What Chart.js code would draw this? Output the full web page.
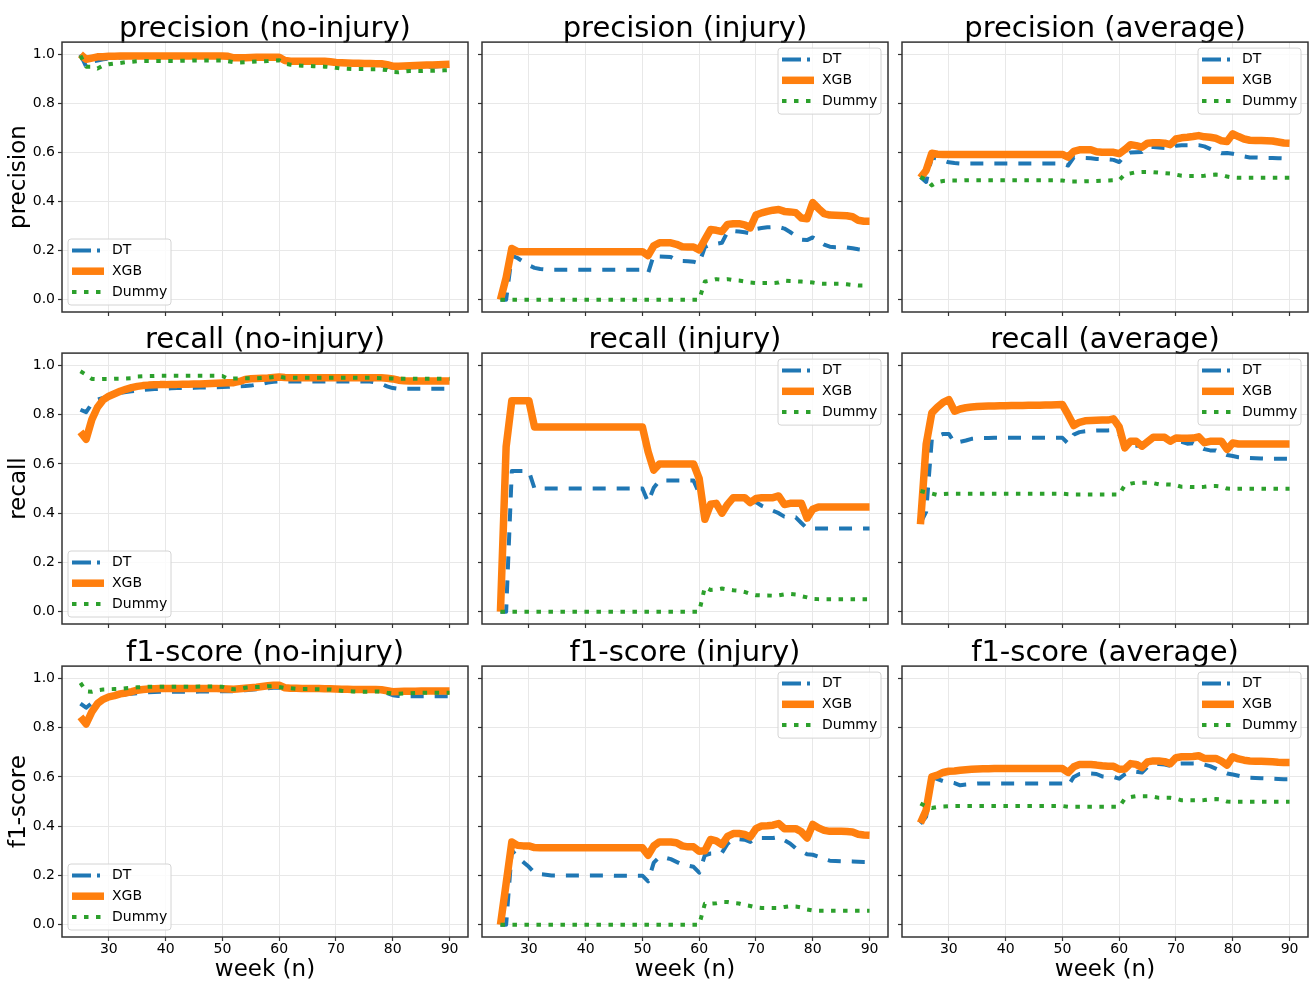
<!DOCTYPE html>
<html>
<head>
<meta charset="utf-8">
<script src="https://cdn.jsdelivr.net/npm/chart.js@4.4.0/dist/chart.umd.min.js"></script>
<style>
  body { margin: 0; background: #fff; width: 1310px; height: 983px; overflow: hidden; position: relative; }
  canvas { position: absolute; }
</style>
</head>
<body>
<script>
// weeks on the x axis
const weeks = [25, 26, 27, 28, 29, 30, 31, 32, 33, 34, 35, 36, 37, 38, 39, 40, 41, 42, 43, 44,
  45, 46, 47, 48, 49, 50, 51, 52, 53, 54, 55, 56, 57, 58, 59, 60, 61, 62, 63, 64,
  65, 66, 67, 68, 69, 70, 71, 72, 73, 74, 75, 76, 77, 78, 79, 80, 81, 82, 83, 84,
  85, 86, 87, 88, 89, 90];
const weekTicks = [30, 40, 50, 60, 70, 80, 90];
const scoreTicks = [0, 0.2, 0.4, 0.6, 0.8, 1.0];
const modelNames = ['DT', 'XGB', 'Dummy'];

// precision
const precisionNoInjuryDT = [1.0, 0.95, 0.97, 0.975, 0.98, 0.983, 0.985, 0.987, 0.988, 0.99,
  0.99, 0.99, 0.99, 0.99, 0.99, 0.99, 0.99, 0.99, 0.99, 0.99,
  0.99, 0.99, 0.99, 0.99, 0.99, 0.99, 0.99, 0.985, 0.985, 0.985,
  0.985, 0.985, 0.985, 0.985, 0.985, 0.985, 0.97, 0.97, 0.968, 0.968,
  0.968, 0.966, 0.966, 0.965, 0.965, 0.963, 0.962, 0.962, 0.96, 0.96,
  0.96, 0.958, 0.957, 0.955, 0.95, 0.945, 0.945, 0.946, 0.947, 0.948,
  0.949, 0.95, 0.95, 0.952, 0.953, 0.955];
const precisionNoInjuryXGB = [1.0, 0.98, 0.985, 0.99, 0.99, 0.992, 0.992, 0.993, 0.993, 0.993,
  0.993, 0.993, 0.993, 0.993, 0.993, 0.993, 0.993, 0.993, 0.993, 0.993,
  0.993, 0.993, 0.993, 0.993, 0.993, 0.993, 0.992, 0.986, 0.986, 0.986,
  0.987, 0.988, 0.988, 0.988, 0.988, 0.988, 0.975, 0.972, 0.972, 0.972,
  0.972, 0.972, 0.972, 0.972, 0.97, 0.967, 0.966, 0.965, 0.964, 0.964,
  0.963, 0.963, 0.962, 0.962, 0.958, 0.952, 0.952, 0.953, 0.954, 0.955,
  0.956, 0.957, 0.957, 0.958, 0.959, 0.96];
const precisionNoInjuryDummy = [0.995, 0.95, 0.95, 0.942, 0.955, 0.96, 0.963, 0.965, 0.968, 0.97,
  0.972, 0.973, 0.973, 0.973, 0.973, 0.973, 0.973, 0.973, 0.974, 0.974,
  0.975, 0.975, 0.975, 0.975, 0.975, 0.975, 0.972, 0.968, 0.967, 0.968,
  0.97, 0.971, 0.972, 0.973, 0.975, 0.976, 0.962, 0.958, 0.955, 0.954,
  0.953, 0.952, 0.951, 0.95, 0.948, 0.945, 0.942, 0.941, 0.94, 0.94,
  0.94, 0.939, 0.939, 0.938, 0.936, 0.928, 0.927, 0.93, 0.932, 0.932,
  0.932, 0.933, 0.933, 0.934, 0.935, 0.936];

const precisionInjuryDT = [0.0, 0.0, 0.18, 0.17, 0.155, 0.14, 0.13, 0.125, 0.123, 0.122,
  0.122, 0.122, 0.122, 0.122, 0.122, 0.122, 0.122, 0.122, 0.122, 0.122,
  0.122, 0.122, 0.122, 0.122, 0.122, 0.122, 0.108, 0.182, 0.176, 0.175,
  0.174, 0.16, 0.158, 0.157, 0.155, 0.148, 0.215, 0.225, 0.228, 0.232,
  0.277, 0.28, 0.278, 0.275, 0.27, 0.288, 0.292, 0.295, 0.296, 0.296,
  0.29, 0.276, 0.26, 0.245, 0.243, 0.254, 0.24, 0.225, 0.216, 0.214,
  0.214, 0.213, 0.21, 0.206, 0.203, 0.202];
const precisionInjuryXGB = [0.0, 0.09, 0.209, 0.196, 0.196, 0.196, 0.196, 0.196, 0.196, 0.196,
  0.196, 0.196, 0.196, 0.196, 0.196, 0.196, 0.196, 0.196, 0.196, 0.196,
  0.196, 0.196, 0.196, 0.196, 0.196, 0.196, 0.18, 0.22, 0.232, 0.232,
  0.232, 0.226, 0.216, 0.215, 0.215, 0.203, 0.245, 0.286, 0.283, 0.278,
  0.307, 0.31, 0.31, 0.305, 0.293, 0.345, 0.354, 0.36, 0.365, 0.368,
  0.36, 0.358, 0.355, 0.333, 0.33, 0.396, 0.372, 0.351, 0.345, 0.344,
  0.343, 0.342, 0.338, 0.324, 0.32, 0.32];
const precisionInjuryDummy = [0, 0, 0, 0, 0, 0, 0, 0, 0, 0,
  0, 0, 0, 0, 0, 0, 0, 0, 0, 0,
  0, 0, 0, 0, 0, 0, 0, 0, 0, 0,
  0, 0, 0, 0, 0, 0, 0.074, 0.078, 0.084, 0.082,
  0.084, 0.08, 0.078, 0.074, 0.07, 0.068, 0.068, 0.068, 0.068, 0.07,
  0.078, 0.076, 0.075, 0.074, 0.072, 0.07, 0.066, 0.065, 0.065, 0.065,
  0.065, 0.063, 0.06, 0.058, 0.058, 0.057];

const precisionAvgDT = [0.5, 0.48, 0.58, 0.575, 0.568, 0.56, 0.557, 0.555, 0.555, 0.555,
  0.555, 0.555, 0.555, 0.555, 0.555, 0.555, 0.555, 0.555, 0.555, 0.555,
  0.555, 0.555, 0.555, 0.555, 0.555, 0.555, 0.547, 0.58, 0.578, 0.578,
  0.577, 0.574, 0.573, 0.572, 0.57, 0.561, 0.59, 0.6, 0.601, 0.602,
  0.622, 0.622, 0.62, 0.618, 0.615, 0.628, 0.63, 0.63, 0.63, 0.63,
  0.625, 0.615, 0.605, 0.597, 0.598, 0.595, 0.59, 0.584, 0.58, 0.58,
  0.579, 0.578, 0.578, 0.577, 0.576, 0.576];
const precisionAvgXGB = [0.497, 0.527, 0.597, 0.593, 0.592, 0.592, 0.592, 0.592, 0.592, 0.592,
  0.592, 0.592, 0.592, 0.592, 0.592, 0.592, 0.592, 0.592, 0.592, 0.592,
  0.592, 0.592, 0.592, 0.592, 0.592, 0.592, 0.581, 0.605, 0.611, 0.611,
  0.611, 0.603, 0.601, 0.601, 0.601, 0.595, 0.612, 0.632, 0.628, 0.622,
  0.638, 0.64, 0.64, 0.638, 0.632, 0.655, 0.66, 0.662, 0.665, 0.669,
  0.664, 0.662, 0.658, 0.648, 0.645, 0.676, 0.665, 0.655, 0.65, 0.649,
  0.649, 0.648, 0.647, 0.643, 0.639, 0.638];
const precisionAvgDummy = [0.5, 0.49, 0.466, 0.48, 0.484, 0.486, 0.486, 0.486, 0.487, 0.487,
  0.487, 0.487, 0.487, 0.487, 0.487, 0.487, 0.487, 0.487, 0.487, 0.487,
  0.487, 0.487, 0.487, 0.487, 0.487, 0.486, 0.482, 0.482, 0.482, 0.483,
  0.483, 0.484, 0.485, 0.486, 0.487, 0.487, 0.511, 0.515, 0.52, 0.521,
  0.521, 0.52, 0.518, 0.516, 0.514, 0.51, 0.505, 0.504, 0.504, 0.504,
  0.505, 0.509, 0.51, 0.509, 0.502, 0.498, 0.497, 0.497, 0.497, 0.497,
  0.497, 0.497, 0.497, 0.497, 0.497, 0.497];

// recall
const recallNoInjuryDT = [0.82, 0.81, 0.845, 0.861, 0.868, 0.874, 0.883, 0.888, 0.892, 0.895,
  0.898, 0.9, 0.902, 0.904, 0.905, 0.906, 0.907, 0.908, 0.908, 0.908,
  0.909, 0.91, 0.91, 0.91, 0.911, 0.912, 0.913, 0.915, 0.915, 0.916,
  0.918, 0.922, 0.925, 0.93, 0.934, 0.935, 0.935, 0.935, 0.935, 0.935,
  0.935, 0.935, 0.935, 0.935, 0.935, 0.935, 0.935, 0.935, 0.935, 0.935,
  0.935, 0.935, 0.93, 0.925, 0.915, 0.908, 0.905, 0.905, 0.905, 0.905,
  0.905, 0.905, 0.905, 0.905, 0.905, 0.905];
const recallNoInjuryXGB = [0.73, 0.70, 0.78, 0.83, 0.86, 0.875, 0.885, 0.895, 0.903, 0.91,
  0.915, 0.918, 0.92, 0.921, 0.922, 0.922, 0.923, 0.923, 0.924, 0.924,
  0.925, 0.925, 0.926, 0.927, 0.928, 0.929, 0.93, 0.93, 0.935, 0.943,
  0.946, 0.947, 0.948, 0.949, 0.951, 0.953, 0.951, 0.95, 0.95, 0.95,
  0.95, 0.95, 0.95, 0.95, 0.95, 0.95, 0.95, 0.95, 0.95, 0.95,
  0.95, 0.95, 0.95, 0.95, 0.948, 0.945, 0.94, 0.938, 0.937, 0.937,
  0.937, 0.937, 0.937, 0.937, 0.937, 0.937];
const recallNoInjuryDummy = [0.976, 0.962, 0.945, 0.944, 0.945, 0.945, 0.946, 0.946, 0.947, 0.948,
  0.955, 0.956, 0.957, 0.957, 0.958, 0.958, 0.958, 0.958, 0.958, 0.958,
  0.958, 0.958, 0.958, 0.958, 0.958, 0.957, 0.946, 0.947, 0.947, 0.948,
  0.948, 0.948, 0.949, 0.95, 0.953, 0.955, 0.95, 0.95, 0.95, 0.95,
  0.95, 0.95, 0.95, 0.95, 0.95, 0.95, 0.95, 0.95, 0.95, 0.95,
  0.95, 0.95, 0.949, 0.948, 0.947, 0.947, 0.946, 0.946, 0.946, 0.946,
  0.946, 0.946, 0.946, 0.946, 0.946, 0.946];

const recallInjuryDT = [0.0, 0.0, 0.571, 0.571, 0.571, 0.571, 0.5, 0.5, 0.5, 0.5,
  0.5, 0.5, 0.5, 0.5, 0.5, 0.5, 0.5, 0.5, 0.5, 0.5,
  0.5, 0.5, 0.5, 0.5, 0.5, 0.5, 0.445, 0.503, 0.533, 0.533,
  0.533, 0.533, 0.533, 0.533, 0.533, 0.48, 0.41, 0.43, 0.43, 0.4,
  0.43, 0.46, 0.46, 0.46, 0.443, 0.445, 0.43, 0.42, 0.41, 0.4,
  0.386, 0.385, 0.383, 0.36, 0.338, 0.338, 0.338, 0.338, 0.338, 0.338,
  0.338, 0.338, 0.338, 0.338, 0.338, 0.338];
const recallInjuryXGB = [0.0, 0.67, 0.857, 0.857, 0.857, 0.857, 0.75, 0.75, 0.75, 0.75,
  0.75, 0.75, 0.75, 0.75, 0.75, 0.75, 0.75, 0.75, 0.75, 0.75,
  0.75, 0.75, 0.75, 0.75, 0.75, 0.75, 0.65, 0.575, 0.6, 0.6,
  0.6, 0.6, 0.6, 0.6, 0.6, 0.54, 0.375, 0.436, 0.44, 0.4,
  0.436, 0.463, 0.463, 0.463, 0.443, 0.46, 0.463, 0.463, 0.463, 0.47,
  0.435, 0.44, 0.44, 0.44, 0.38, 0.416, 0.425, 0.425, 0.425, 0.425,
  0.425, 0.425, 0.425, 0.425, 0.425, 0.425];
const recallInjuryDummy = [0, 0, 0, 0, 0, 0, 0, 0, 0, 0,
  0, 0, 0, 0, 0, 0, 0, 0, 0, 0,
  0, 0, 0, 0, 0, 0, 0, 0, 0, 0,
  0, 0, 0, 0, 0, 0, 0.1, 0.088, 0.09, 0.094,
  0.09, 0.087, 0.085, 0.08, 0.072, 0.067, 0.066, 0.066, 0.065, 0.066,
  0.07, 0.072, 0.07, 0.063, 0.058, 0.052, 0.051, 0.051, 0.051, 0.051,
  0.051, 0.051, 0.051, 0.051, 0.051, 0.051];

const recallAvgDT = [0.36, 0.405, 0.699, 0.713, 0.722, 0.722, 0.686, 0.69, 0.695, 0.702,
  0.704, 0.705, 0.705, 0.706, 0.706, 0.706, 0.706, 0.706, 0.706, 0.706,
  0.706, 0.706, 0.706, 0.706, 0.706, 0.706, 0.683, 0.719, 0.729, 0.733,
  0.735, 0.736, 0.736, 0.736, 0.737, 0.72, 0.672, 0.673, 0.674, 0.675,
  0.69, 0.703, 0.703, 0.702, 0.695, 0.692, 0.69, 0.682, 0.684, 0.672,
  0.66, 0.655, 0.655, 0.645, 0.636, 0.632, 0.627, 0.625, 0.624, 0.623,
  0.622, 0.621, 0.621, 0.621, 0.621, 0.621];
const recallAvgXGB = [0.355, 0.679, 0.807, 0.831, 0.85, 0.861, 0.814, 0.823, 0.828, 0.831,
  0.833, 0.834, 0.835, 0.835, 0.836, 0.836, 0.837, 0.837, 0.837, 0.838,
  0.838, 0.838, 0.839, 0.839, 0.84, 0.841, 0.8, 0.756, 0.769, 0.775,
  0.776, 0.777, 0.778, 0.778, 0.783, 0.75, 0.665, 0.692, 0.692, 0.672,
  0.69, 0.708, 0.708, 0.708, 0.692, 0.705, 0.704, 0.704, 0.705, 0.71,
  0.686, 0.692, 0.692, 0.692, 0.659, 0.685, 0.681, 0.681, 0.681, 0.681,
  0.681, 0.681, 0.681, 0.681, 0.681, 0.681];
const recallAvgDummy = [0.49, 0.485, 0.48, 0.474, 0.478, 0.479, 0.479, 0.479, 0.479, 0.479,
  0.479, 0.479, 0.479, 0.479, 0.479, 0.479, 0.479, 0.479, 0.479, 0.479,
  0.479, 0.479, 0.479, 0.479, 0.479, 0.479, 0.477, 0.476, 0.476, 0.476,
  0.476, 0.476, 0.476, 0.476, 0.476, 0.476, 0.514, 0.52, 0.524, 0.524,
  0.524, 0.522, 0.517, 0.517, 0.516, 0.514, 0.507, 0.507, 0.506, 0.506,
  0.507, 0.51, 0.51, 0.508, 0.5, 0.499, 0.499, 0.499, 0.499, 0.499,
  0.499, 0.499, 0.499, 0.499, 0.499, 0.499];

// f1-score
const f1NoInjuryDT = [0.898, 0.881, 0.9, 0.912, 0.917, 0.922, 0.927, 0.932, 0.936, 0.938,
  0.94, 0.942, 0.944, 0.945, 0.946, 0.946, 0.946, 0.946, 0.946, 0.946,
  0.946, 0.947, 0.947, 0.947, 0.947, 0.948, 0.948, 0.948, 0.95, 0.952,
  0.954, 0.956, 0.958, 0.96, 0.962, 0.962, 0.956, 0.955, 0.955, 0.955,
  0.955, 0.955, 0.955, 0.955, 0.955, 0.955, 0.955, 0.955, 0.955, 0.955,
  0.954, 0.953, 0.952, 0.95, 0.94, 0.932, 0.929, 0.928, 0.928, 0.928,
  0.928, 0.928, 0.928, 0.928, 0.928, 0.928];
const f1NoInjuryXGB = [0.844, 0.815, 0.864, 0.898, 0.915, 0.925, 0.93, 0.937, 0.941, 0.946,
  0.952, 0.955, 0.957, 0.958, 0.959, 0.959, 0.959, 0.959, 0.959, 0.959,
  0.959, 0.959, 0.959, 0.959, 0.959, 0.958, 0.957, 0.956, 0.958, 0.96,
  0.962, 0.964, 0.967, 0.97, 0.972, 0.972, 0.962, 0.96, 0.96, 0.959,
  0.959, 0.959, 0.959, 0.958, 0.958, 0.957, 0.956, 0.956, 0.955, 0.955,
  0.955, 0.955, 0.955, 0.954, 0.95, 0.946, 0.947, 0.948, 0.948, 0.948,
  0.949, 0.949, 0.949, 0.949, 0.949, 0.949];
const f1NoInjuryDummy = [0.982, 0.948, 0.946, 0.952, 0.955, 0.956, 0.957, 0.958, 0.96, 0.962,
  0.964, 0.965, 0.966, 0.966, 0.966, 0.966, 0.966, 0.966, 0.966, 0.966,
  0.966, 0.967, 0.967, 0.967, 0.967, 0.966, 0.958, 0.956, 0.957, 0.962,
  0.964, 0.965, 0.966, 0.968, 0.969, 0.965, 0.961, 0.96, 0.958, 0.957,
  0.957, 0.956, 0.956, 0.955, 0.955, 0.953, 0.95, 0.948, 0.947, 0.946,
  0.946, 0.946, 0.947, 0.946, 0.942, 0.939, 0.938, 0.939, 0.94, 0.941,
  0.942, 0.942, 0.942, 0.942, 0.942, 0.942];

const f1InjuryDT = [0.0, 0.0, 0.302, 0.275, 0.255, 0.235, 0.21, 0.205, 0.203, 0.2,
  0.2, 0.2, 0.2, 0.2, 0.2, 0.2, 0.2, 0.2, 0.2, 0.2,
  0.199, 0.199, 0.199, 0.199, 0.199, 0.199, 0.176, 0.252, 0.275, 0.272,
  0.266, 0.255, 0.244, 0.24, 0.235, 0.211, 0.282, 0.289, 0.29, 0.292,
  0.329, 0.347, 0.347, 0.345, 0.336, 0.352, 0.352, 0.352, 0.352, 0.356,
  0.343, 0.33, 0.31, 0.298, 0.286, 0.284, 0.276, 0.266, 0.26, 0.259,
  0.258, 0.258, 0.257, 0.256, 0.255, 0.255];
const f1InjuryXGB = [0.0, 0.167, 0.336, 0.322, 0.32, 0.32, 0.313, 0.312, 0.312, 0.312,
  0.312, 0.312, 0.312, 0.312, 0.312, 0.312, 0.312, 0.312, 0.312, 0.312,
  0.312, 0.312, 0.312, 0.312, 0.312, 0.312, 0.282, 0.32, 0.336, 0.336,
  0.336, 0.333, 0.32, 0.316, 0.316, 0.298, 0.3, 0.346, 0.34, 0.325,
  0.359, 0.37, 0.37, 0.366, 0.356, 0.39, 0.401, 0.402, 0.404, 0.411,
  0.39, 0.39, 0.39, 0.377, 0.352, 0.407, 0.393, 0.383, 0.379, 0.379,
  0.379, 0.378, 0.376, 0.367, 0.364, 0.363];
const f1InjuryDummy = [0, 0, 0, 0, 0, 0, 0, 0, 0, 0,
  0, 0, 0, 0, 0, 0, 0, 0, 0, 0,
  0, 0, 0, 0, 0, 0, 0, 0, 0, 0,
  0, 0, 0, 0, 0, 0, 0.085, 0.085, 0.087, 0.092,
  0.092, 0.088, 0.086, 0.08, 0.076, 0.07, 0.068, 0.068, 0.068, 0.068,
  0.072, 0.075, 0.074, 0.07, 0.062, 0.058, 0.057, 0.057, 0.057, 0.057,
  0.057, 0.057, 0.057, 0.057, 0.057, 0.057];

const f1AvgDT = [0.41, 0.438, 0.6, 0.591, 0.583, 0.58, 0.575, 0.566, 0.569, 0.571,
  0.573, 0.573, 0.573, 0.573, 0.573, 0.573, 0.573, 0.573, 0.573, 0.573,
  0.573, 0.573, 0.573, 0.573, 0.573, 0.573, 0.564, 0.6, 0.612, 0.614,
  0.614, 0.612, 0.602, 0.6, 0.6, 0.593, 0.611, 0.621, 0.621, 0.618,
  0.641, 0.652, 0.652, 0.65, 0.645, 0.654, 0.655, 0.655, 0.655, 0.656,
  0.65, 0.644, 0.634, 0.624, 0.614, 0.61, 0.605, 0.6, 0.597, 0.596,
  0.595, 0.594, 0.593, 0.592, 0.591, 0.591];
const f1AvgXGB = [0.413, 0.465, 0.6, 0.607, 0.618, 0.623, 0.624, 0.627, 0.629, 0.631,
  0.632, 0.633, 0.633, 0.634, 0.634, 0.634, 0.634, 0.634, 0.634, 0.634,
  0.634, 0.634, 0.634, 0.634, 0.634, 0.634, 0.618, 0.641, 0.65, 0.65,
  0.65, 0.648, 0.645, 0.643, 0.643, 0.631, 0.632, 0.654, 0.651, 0.638,
  0.661, 0.665, 0.665, 0.662, 0.654, 0.678, 0.682, 0.682, 0.683, 0.686,
  0.675, 0.675, 0.675, 0.664, 0.648, 0.682, 0.673, 0.668, 0.665, 0.664,
  0.664, 0.663, 0.662, 0.66, 0.659, 0.659];
const f1AvgDummy = [0.492, 0.48, 0.474, 0.478, 0.48, 0.481, 0.482, 0.482, 0.482, 0.482,
  0.482, 0.482, 0.482, 0.482, 0.482, 0.482, 0.482, 0.482, 0.482, 0.482,
  0.482, 0.482, 0.482, 0.482, 0.482, 0.482, 0.479, 0.479, 0.479, 0.479,
  0.479, 0.479, 0.479, 0.479, 0.479, 0.479, 0.512, 0.518, 0.522, 0.522,
  0.522, 0.52, 0.515, 0.515, 0.515, 0.512, 0.505, 0.505, 0.505, 0.505,
  0.506, 0.509, 0.51, 0.508, 0.5, 0.499, 0.499, 0.499, 0.499, 0.499,
  0.499, 0.499, 0.499, 0.499, 0.499, 0.499];

const panels = [
  { title: 'precision (no-injury)', yLabel: 'precision', series: [precisionNoInjuryDT, precisionNoInjuryXGB, precisionNoInjuryDummy] },
  { title: 'precision (injury)', series: [precisionInjuryDT, precisionInjuryXGB, precisionInjuryDummy] },
  { title: 'precision (average)', series: [precisionAvgDT, precisionAvgXGB, precisionAvgDummy] },
  { title: 'recall (no-injury)', yLabel: 'recall', series: [recallNoInjuryDT, recallNoInjuryXGB, recallNoInjuryDummy] },
  { title: 'recall (injury)', series: [recallInjuryDT, recallInjuryXGB, recallInjuryDummy] },
  { title: 'recall (average)', series: [recallAvgDT, recallAvgXGB, recallAvgDummy] },
  { title: 'f1-score (no-injury)', yLabel: 'f1-score', series: [f1NoInjuryDT, f1NoInjuryXGB, f1NoInjuryDummy] },
  { title: 'f1-score (injury)', series: [f1InjuryDT, f1InjuryXGB, f1InjuryDummy] },
  { title: 'f1-score (average)', series: [f1AvgDT, f1AvgXGB, f1AvgDummy] }
];

// line looks per model: DT dashed (dash-dot in the legend), XGB thick solid, Dummy dotted
const lineStyles = [
  { color: '#1f77b4', width: 4, dash: [13, 11], legendDash: [19, 6, 3, 6], order: 3 },
  { color: '#ff7f0e', width: 7.5, dash: [], legendDash: [], order: 2 },
  { color: '#2ca02c', width: 4, dash: [4.5, 7.5], legendDash: [4.5, 7.5], order: 1 }
];

Chart.defaults.font.family = '"DejaVu Sans", sans-serif';
Chart.defaults.color = '#000';

// axes frame + legend drawn inside the plot area, like matplotlib
const frameLegend = {
  id: 'frameLegend',
  afterDatasetsDraw(chart, args, opts) {
    const ctx = chart.ctx, a = chart.chartArea;
    ctx.save();
    ctx.strokeStyle = '#333';
    ctx.lineWidth = 1.5;
    ctx.strokeRect(a.left, a.top, a.right - a.left, a.bottom - a.top);

    const w = 103, h = 66;
    const x = opts.corner === 'bl' ? a.left + 6 : a.right - 7 - w;
    const y = opts.corner === 'bl' ? a.bottom - 7 - h : a.top + 6;
    ctx.beginPath();
    if (ctx.roundRect) ctx.roundRect(x, y, w, h, 3); else ctx.rect(x, y, w, h);
    ctx.fillStyle = 'rgba(255,255,255,0.8)';
    ctx.fill();
    ctx.strokeStyle = '#d4d4d4';
    ctx.lineWidth = 1;
    ctx.stroke();

    chart.data.datasets.forEach((ds, k) => {
      const cy = y + 11.5 + k * 20.7;
      ctx.beginPath();
      ctx.setLineDash(lineStyles[k].legendDash);
      ctx.lineWidth = ds.borderWidth;
      ctx.strokeStyle = ds.borderColor;
      ctx.moveTo(x + 4, cy);
      ctx.lineTo(x + 36, cy);
      ctx.stroke();
      ctx.setLineDash([]);
      ctx.fillStyle = '#000';
      ctx.font = '14px "DejaVu Sans"';
      ctx.textBaseline = 'middle';
      ctx.textAlign = 'left';
      ctx.fillText(ds.label, x + 44, cy);
    });
    ctx.restore();
  }
};

const colLeft = [0, 470, 890], colWidth = [470, 420, 420];
const rowTop = [0, 311, 624], rowHeight = [318, 319, 359];

panels.forEach(function (p, i) {
  const row = Math.floor(i / 3), col = i % 3;
  const canvas = document.createElement('canvas');
  canvas.width = colWidth[col];
  canvas.height = rowHeight[row];
  canvas.style.left = colLeft[col] + 'px';
  canvas.style.top = rowTop[row] + 'px';
  document.body.appendChild(canvas);

  const datasets = p.series.map((vals, k) => ({
    label: modelNames[k],
    data: weeks.map((w, j) => ({ x: w, y: vals[j] })),
    borderColor: lineStyles[k].color,
    borderWidth: lineStyles[k].width,
    borderDash: lineStyles[k].dash,
    borderJoinStyle: 'round',
    borderCapStyle: 'butt',
    order: lineStyles[k].order,
    pointRadius: 0,
    tension: 0,
    fill: false
  }));

  const gridOpts = { color: '#e8e8e8', lineWidth: 1, drawTicks: true, tickLength: 4, tickColor: '#333', tickWidth: 1.2 };

  new Chart(canvas, {
    type: 'line',
    data: { datasets: datasets },
    options: {
      responsive: false,
      animation: false,
      devicePixelRatio: 1,
      layout: { padding: { left: 0, right: 2, top: 0, bottom: 0 } },
      scales: {
        x: {
          type: 'linear',
          min: 21.75,
          max: 93.25,
          afterBuildTicks: s => { s.ticks = weekTicks.map(v => ({ value: v })); },
          afterFit: s => {
            s.height = row === 2 ? 46 : 6;
            s.paddingLeft = 0;
            s.paddingRight = 0;
          },
          grid: gridOpts,
          border: { display: false },
          ticks: { display: row === 2, padding: 0, autoSkip: false, maxRotation: 0, font: { size: 14 }, color: '#000' },
          title: { display: row === 2, text: 'week (n)', color: '#000', font: { size: 23, lineHeight: 1 }, padding: { top: 0, bottom: 1.5 } }
        },
        y: {
          min: -0.05,
          max: 1.05,
          afterBuildTicks: s => { s.ticks = scoreTicks.map(v => ({ value: v })); },
          afterFit: s => {
            s.width = col === 0 ? 62 : 12;
            s.paddingTop = 0;
            s.paddingBottom = 0;
          },
          grid: gridOpts,
          border: { display: false },
          ticks: { display: col === 0, padding: 3, font: { size: 14 }, color: '#000', callback: v => v.toFixed(1) },
          title: { display: col === 0, text: p.yLabel || '', color: '#000', font: { size: 23, lineHeight: 1 }, padding: { top: 7.5, bottom: 0 } }
        }
      },
      plugins: {
        legend: { display: false },
        tooltip: { enabled: false },
        title: {
          display: true,
          text: p.title,
          fullSize: false,
          color: '#000',
          font: { size: 29, weight: 'normal', lineHeight: 0.9 },
          padding: { top: 16, bottom: 0 }
        },
        frameLegend: { corner: col === 0 ? 'bl' : 'tr' }
      }
    },
    plugins: [frameLegend]
  });
});
</script>
</body>
</html>
